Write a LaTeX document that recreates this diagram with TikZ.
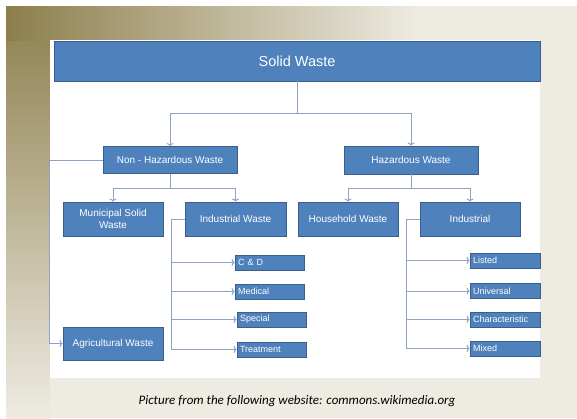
\documentclass[tikz,border=0pt]{standalone}
\usepackage{fontspec}
\usetikzlibrary{arrows.meta}
\setmainfont{Liberation Sans}
\newfontfamily\capfont{Carlito}
\definecolor{boxblue}{HTML}{4F81BD}
\definecolor{boxline}{HTML}{3A5F8C}
\definecolor{linkgray}{HTML}{8FA3BF}
\definecolor{olivebar}{HTML}{8C7E4C}
\definecolor{paper}{HTML}{EEEBE2}
\tikzset{
  wbox/.style={draw=boxline, line width=0.8pt, fill=boxblue, text=white, align=center, inner sep=2pt, font=\fontsize{10}{12}\selectfont},
  sbox/.style={wbox, minimum height=15pt, text width=63pt, inner sep=3pt, align=left, font=\fontsize{9}{10}\selectfont},
  link/.style={draw=linkgray, line width=1pt, -{To[length=3pt,width=7pt]}},
}
\begin{document}
\begin{tikzpicture}[x=1pt,y=-1pt]
\useasboundingbox (0,0) rectangle (577,418);
\fill[white] (0,0) rectangle (577,418);
\fill[paper] (6,6) rectangle (577,418);
\shade[top color=olivebar, bottom color=paper] (6,6) rectangle (50,418);
\shade[left color=olivebar, right color=paper] (6,6) rectangle (420,40);
\fill[white] (50,40) rectangle (540,378);

\node[wbox, minimum width=486pt, minimum height=40pt, font=\fontsize{14.5}{17}\selectfont] (solid) at (297,61) {Solid Waste};
\node[wbox, minimum width=134pt, minimum height=27pt] (nonhaz) at (170,160) {Non - Hazardous Waste};
\node[wbox, minimum width=134pt, minimum height=28pt] (haz) at (411,160) {Hazardous Waste};
\node[wbox, minimum width=100pt, minimum height=34pt] (muni) at (113,219) {Municipal Solid\\Waste};
\node[wbox, minimum width=101pt, minimum height=34pt] (indw) at (235.5,219) {Industrial Waste};
\node[wbox, minimum width=100pt, minimum height=34pt] (house) at (348,219) {Household Waste};
\node[wbox, minimum width=100pt, minimum height=34pt] (indh) at (470,219) {Industrial};
\node[wbox, minimum width=100pt, minimum height=33pt] (agri) at (113,343.5) {Agricultural Waste};

\node[sbox] (cd) at (269.5,262.5) {C \& D};
\node[sbox] (med) at (269.5,291.5) {Medical};
\node[sbox] (spec) at (271.5,319.5) {Special};
\node[sbox] (treat) at (271.5,349.5) {Treatment};
\node[sbox, text width=64pt] (listed) at (505,260.5) {Listed};
\node[sbox, text width=64pt] (univ) at (505,291) {Universal};
\node[sbox, text width=64pt] (charac) at (505,319.5) {Characteristic};
\node[sbox, text width=64pt] (mixed) at (505,348.5) {Mixed};

\draw[link] (solid.south) -- ++(0,32) -| (nonhaz.north);
\draw[link] (solid.south) -- ++(0,32) -| (haz.north);
\draw[link] (nonhaz.south) -- ++(0,15) -| (muni.north);
\draw[link] (nonhaz.south) -- ++(0,15) -| (indw.north);
\draw[link] (nonhaz.west) -- ++(-53,0) |- (agri.west);
\draw[link] (haz.south) -- ++(0,14) -| (house.north);
\draw[link] (haz.south) -- ++(0,14) -| (indh.north);
\foreach \s in {cd,med,spec,treat}
  \draw[link] (indw.west) -- ++(-13,0) |- (\s.west);
\foreach \s in {listed,univ,charac,mixed}
  \draw[link] (indh.west) -- ++(-13,0) |- (\s.west);

\node[font=\capfont\itshape\fontsize{13}{15}\selectfont] (note) at (297,401) {Picture from the following website: commons.wikimedia.org};
\end{tikzpicture}
\end{document}
